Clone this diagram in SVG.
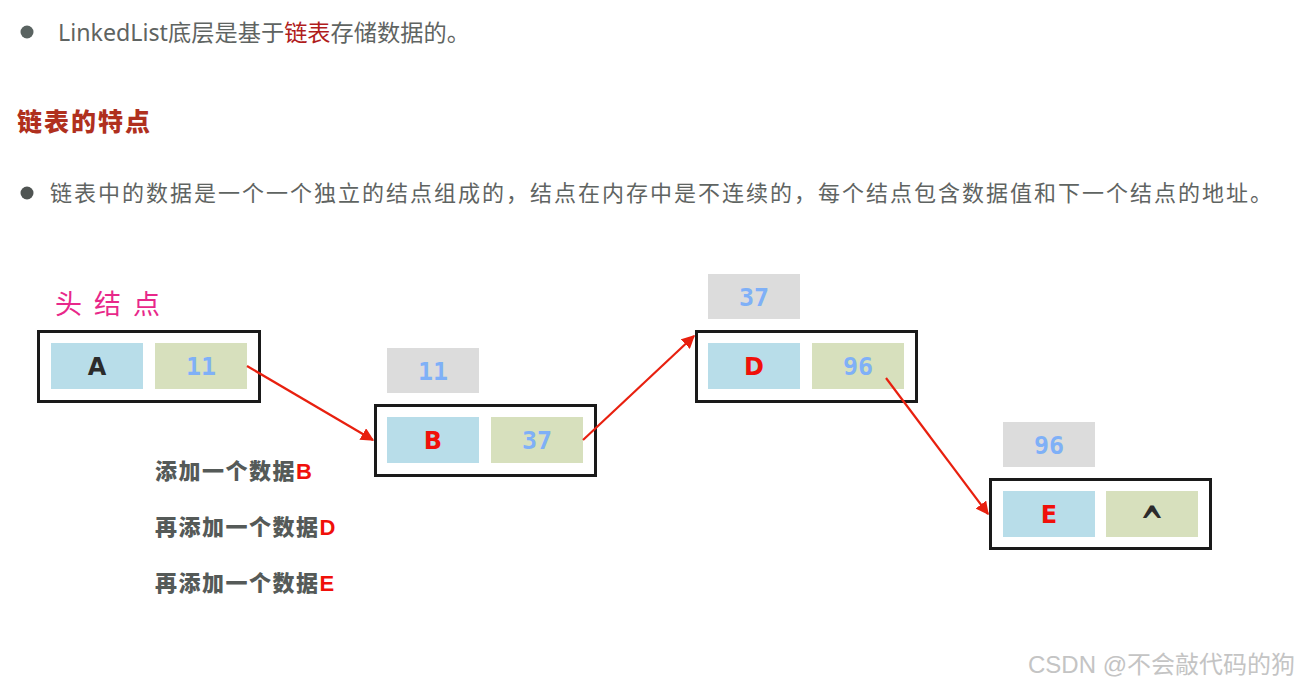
<svg xmlns="http://www.w3.org/2000/svg" width="1304" height="688" viewBox="0 0 1304 688">
<defs>
<style>
.body{font-family:"Noto Sans","Noto Sans CJK SC",sans-serif;fill:#5f6462;font-size:22px}
.head{font-family:"Noto Sans CJK SC",sans-serif;fill:#b0301e;font-size:25px;font-weight:900}
.outer{fill:#ffffff;stroke:#1a1a1a;stroke-width:3}
.cv{fill:#b8dde9}
.cn{fill:#d7e0bd}
.lab{fill:#dcdcdc}
.t{font-family:"DejaVu Sans Mono","Liberation Mono",monospace;font-weight:bold;font-size:25px;text-anchor:middle}
.l{font-family:"DejaVu Sans","Liberation Sans",sans-serif;font-weight:bold;font-size:24px;text-anchor:middle}
.blue{fill:#7fb0f7}
.red{fill:#f0100a}
.dark{fill:#2b2b2b}
.op{font-family:"Noto Sans CJK SC",sans-serif;font-weight:900;font-size:22px;fill:#555a58;letter-spacing:1.5px}
.conn{stroke:#e8200f;stroke-width:2.2;fill:none}
</style>
<marker id="ah" viewBox="0 0 10 10" refX="9" refY="5" markerWidth="6" markerHeight="6" orient="auto" markerUnits="strokeWidth">
<path d="M0,0 L10,5 L0,10 z" fill="#e8200f"/>
</marker>
</defs>
<rect width="1304" height="688" fill="#ffffff"/>

<g id="intro">
<circle cx="27" cy="32" r="6.5" fill="#5a6361"/>
<text class="body" x="58" y="41" style="font-size:23px" textLength="412" lengthAdjust="spacingAndGlyphs">LinkedList底层是基于<tspan fill="#b01c1c">链表</tspan>存储数据的。</text>
</g>

<g id="heading">
<text class="head" x="17" y="131" letter-spacing="2">链表的特点</text>
</g>

<g id="point">
<circle cx="27" cy="193" r="6.5" fill="#4f5452"/>
<text class="body" x="50" y="201" textLength="1222" lengthAdjust="spacing">链表中的数据是一个一个独立的结点组成的，结点在内存中是不连续的，每个结点包含数据值和下一个结点的地址。</text>
</g>

<g id="head-label">
<text x="55" y="314" font-family="Noto Sans CJK SC,sans-serif" font-size="27" fill="#e8288a" letter-spacing="12">头结点</text>
</g>

<g id="nodeA">
<rect class="outer" x="38.5" y="331.5" width="221" height="70"/>
<rect class="cv" x="51" y="343" width="92" height="46"/>
<rect class="cn" x="155" y="343" width="92" height="46"/>
<text class="l dark" x="97" y="375">A</text>
<text class="t blue" x="201" y="375">11</text>
</g>

<g id="nodeB">
<rect class="lab" x="387" y="348" width="92" height="45"/>
<text class="t blue" x="433" y="380">11</text>
<rect class="outer" x="375.5" y="405.5" width="220" height="70"/>
<rect class="cv" x="387" y="417" width="92" height="46"/>
<rect class="cn" x="491" y="417" width="92" height="46"/>
<text class="l red" x="433" y="449">B</text>
<text class="t blue" x="537" y="449">37</text>
</g>

<g id="nodeD">
<rect class="lab" x="708" y="274" width="92" height="45"/>
<text class="t blue" x="754" y="306">37</text>
<rect class="outer" x="696.5" y="331.5" width="220" height="70"/>
<rect class="cv" x="708" y="343" width="92" height="46"/>
<rect class="cn" x="812" y="343" width="92" height="46"/>
<text class="l red" x="754" y="375">D</text>
<text class="t blue" x="858" y="375">96</text>
</g>

<g id="nodeE">
<rect class="lab" x="1003" y="422" width="92" height="45"/>
<text class="t blue" x="1049" y="454">96</text>
<rect class="outer" x="990.5" y="479.5" width="220" height="69"/>
<rect class="cv" x="1003" y="491" width="92" height="46"/>
<rect class="cn" x="1106" y="491" width="92" height="46"/>
<text class="l red" x="1049" y="523">E</text>
<text class="l dark" x="0" y="0" style="font-size:46px" transform="translate(1152,539) scale(0.62,1)">^</text>
</g>

<g id="connectors">
<line class="conn" x1="247" y1="366" x2="373" y2="440" marker-end="url(#ah)"/>
<line class="conn" x1="583" y1="440" x2="694" y2="336" marker-end="url(#ah)"/>
<line class="conn" x1="886" y1="378" x2="988" y2="514" marker-end="url(#ah)"/>
</g>

<g id="steps">
<text class="op" x="155" y="479">添加一个数据<tspan class="red" font-family="Liberation Sans,sans-serif" font-weight="bold">B</tspan></text>
<text class="op" x="155" y="535">再添加一个数据<tspan class="red" font-family="Liberation Sans,sans-serif" font-weight="bold">D</tspan></text>
<text class="op" x="155" y="591">再添加一个数据<tspan class="red" font-family="Liberation Sans,sans-serif" font-weight="bold">E</tspan></text>
</g>

<g id="watermark">
<text x="1028" y="673" font-family="Liberation Sans,Noto Sans CJK SC,sans-serif" font-size="24" fill="#c4c4c4">CSDN @不会敲代码的狗</text>
</g>
</svg>
